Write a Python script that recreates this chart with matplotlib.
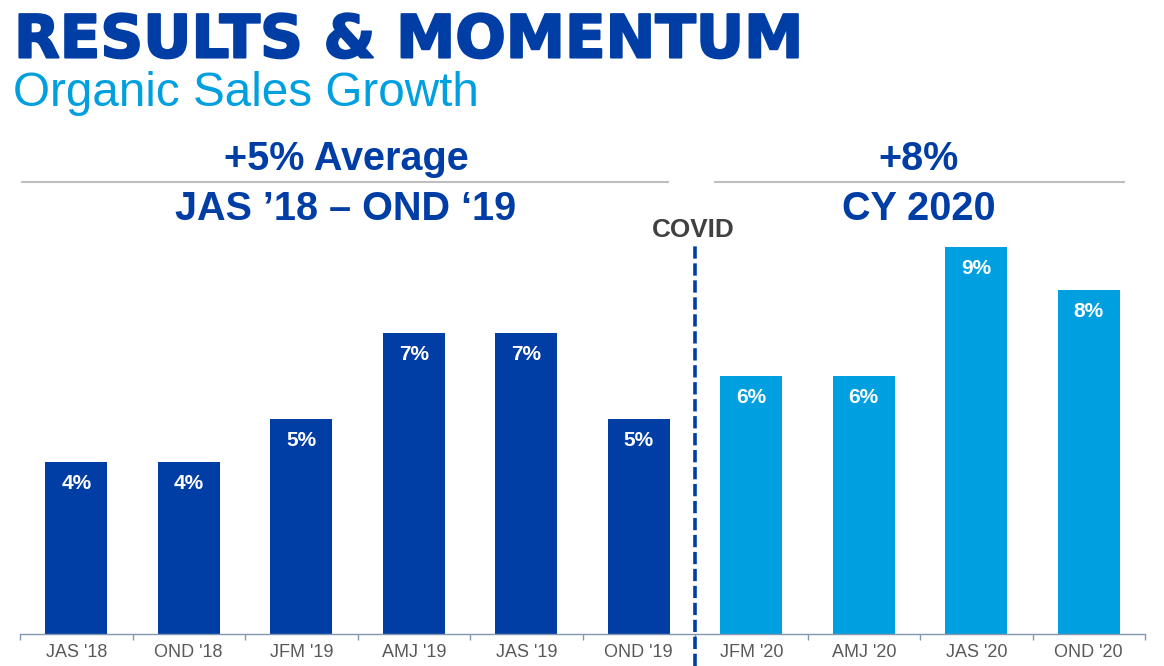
import matplotlib.pyplot as plt
import matplotlib.patheffects as pe
from matplotlib.lines import Line2D
from matplotlib.transforms import blended_transform_factory
import numpy as np

# данные
quarters = ["JAS '18", "OND '18", "JFM '19", "AMJ '19", "JAS '19", "OND '19",
            "JFM '20", "AMJ '20", "JAS '20", "OND '20"]
growth = [4, 4, 5, 7, 7, 5, 6, 6, 9, 8]
is_2020 = [False] * 6 + [True] * 4

DARK = "#003DA5"
LIGHT = "#009FDF"
W, H = 1164, 666

plt.rcParams["font.family"] = ["Liberation Sans", "DejaVu Sans"]

fig = plt.figure(figsize=(W / 100, H / 100), dpi=100)
ax = fig.add_axes([20 / W, 32 / H, 1125 / W, 430 / H])

x = np.arange(len(quarters))
colors = [LIGHT if c else DARK for c in is_2020]
bars = ax.bar(x, growth, width=0.55, color=colors)
for b, v in zip(bars, growth):
    ax.annotate(f"{v}%", (b.get_x() + b.get_width() / 2, v), xytext=(0, -19.4),
                textcoords="offset points", ha="center", va="baseline",
                color="white", fontsize=15, fontweight="bold")

ax.set_xlim(-0.5, len(quarters) - 0.5)
ax.set_ylim(0, 10)
ax.set_xticks(x)
ax.set_xticklabels(quarters, fontsize=13, color="#595959")
ax.set_xticks(np.arange(-0.5, len(quarters)), minor=True)
ax.tick_params(axis="x", which="major", length=0, pad=7.2)
ax.tick_params(axis="x", which="minor", length=4.5, width=1, color="#8497B0")
ax.set_yticks([])
for s in ["top", "right", "left"]:
    ax.spines[s].set_visible(False)
ax.spines["bottom"].set_color("#8497B0")
ax.spines["bottom"].set_linewidth(1)

# линия COVID
trans = blended_transform_factory(ax.transData, ax.transAxes)
ax.plot([5.5, 5.5], [-32 / 430, (634 - 245) / 430], transform=trans,
        color=DARK, lw=2.6, dashes=(3.4, 1.3), clip_on=False)


def fy(px):
    return 1 - px / H


fig.text(14 / W, fy(57.5), "RESULTS & MOMENTUM", fontsize=42.8, fontweight="bold",
         family="DejaVu Sans", color=DARK, va="baseline", ha="left",
         path_effects=[pe.withStroke(linewidth=1.5, foreground=DARK)])
fig.text(13 / W, fy(106), "Organic Sales Growth", fontsize=34.3, color=LIGHT,
         va="baseline", ha="left")

fig.text(346 / W, fy(170), "+5% Average", fontsize=28.5, fontweight="bold",
         color=DARK, ha="center", va="baseline")
fig.text(346 / W, fy(220), "JAS \u201918 \u2013 OND \u201819", fontsize=28.5,
         fontweight="bold", color=DARK, ha="center", va="baseline")
fig.text(919 / W, fy(170), "+8%", fontsize=28.5, fontweight="bold",
         color=DARK, ha="center", va="baseline")
fig.text(919 / W, fy(220), "CY 2020", fontsize=28.5, fontweight="bold",
         color=DARK, ha="center", va="baseline")
fig.text(693 / W, fy(236.7), "COVID", fontsize=18.8, fontweight="bold",
         color="#404040", ha="center", va="baseline")

fig.add_artist(Line2D([22 / W, 668 / W], [fy(182), fy(182)], color="#BFBFBF", lw=1.5))
fig.add_artist(Line2D([715 / W, 1124 / W], [fy(182), fy(182)], color="#BFBFBF", lw=1.5))

fig.savefig("out.png", dpi=100)
